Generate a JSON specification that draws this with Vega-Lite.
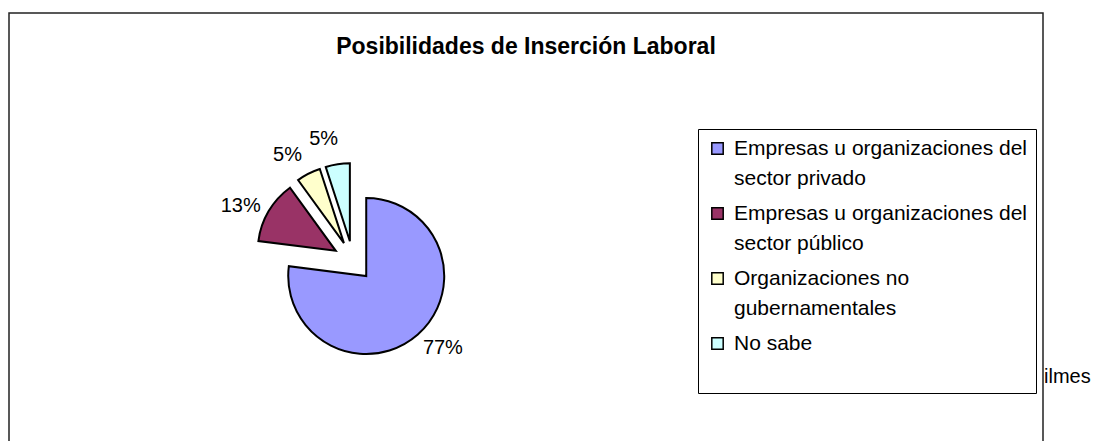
{
  "$schema": "https://vega.github.io/schema/vega-lite/v6.json",
  "width": 1034,
  "height": 430,
  "autosize": "none",
  "padding": {"left": 9, "top": 13, "right": 53, "bottom": -2},
  "background": "white",
  "title": {
    "text": "Posibilidades de Inserción Laboral",
    "frame": "group",
    "anchor": "middle",
    "orient": "top",
    "offset": -40,
    "dy": 25,
    "baseline": "alphabetic",
    "font": "Liberation Sans",
    "fontSize": 23,
    "fontWeight": "bold",
    "color": "black"
  },
  "config": {
    "view": {"stroke": null},
    "font": "Liberation Sans"
  },
  "data": {
    "values": [
      {"categoria": "Empresas u organizaciones del sector privado", "valor": 0.77, "orden": 1},
      {"categoria": "Empresas u organizaciones del sector público", "valor": 0.13, "orden": 2},
      {"categoria": "Organizaciones no gubernamentales", "valor": 0.05, "orden": 3},
      {"categoria": "No sabe", "valor": 0.05, "orden": 4}
    ]
  },
  "layer": [
    {
      "data": {"values": [{"marco": "borde"}]},
      "mark": {
        "type": "rect",
        "filled": false,
        "stroke": "#222222",
        "strokeWidth": 1.5,
        "x": 0,
        "x2": {"expr": "width"},
        "y": 0,
        "y2": {"expr": "height + 20"}
      },
      "encoding": {}
    },
    {
      "mark": {
        "type": "arc",
        "outerRadius": 78,
        "stroke": "black",
        "strokeWidth": 2,
        "strokeJoin": "miter",
        "xOffset": {"expr": "-173 + 20*sin(PI*(datum.valor_start + datum.valor_end))"},
        "yOffset": {"expr": "33 - 20*cos(PI*(datum.valor_start + datum.valor_end))"}
      },
      "encoding": {
        "theta": {"field": "valor", "type": "quantitative", "stack": true},
        "order": {"field": "orden", "type": "quantitative"},
        "color": {
          "field": "categoria",
          "type": "nominal",
          "scale": {
            "domain": [
              "Empresas u organizaciones del sector privado",
              "Empresas u organizaciones del sector público",
              "Organizaciones no gubernamentales",
              "No sabe"
            ],
            "range": ["#9999FF", "#993366", "#FFFFCC", "#CCFFFF"]
          },
          "legend": {
            "orient": "none",
            "legendX": 689,
            "legendY": 116,
            "title": null,
            "strokeColor": "black",
            "padding": 9,
            "symbolType": "square",
            "symbolSize": 130,
            "symbolStrokeColor": "black",
            "symbolStrokeWidth": 1.5,
            "symbolOpacity": 1,
            "labelFont": "Liberation Sans",
            "labelFontSize": 21,
            "labelColor": "black",
            "labelOffset": 6,
            "labelLimit": 0,
            "rowPadding": 13,
            "labelExpr": "datum.label == 'Empresas u organizaciones del sector privado' ? ['Empresas u organizaciones del', 'sector privado'] : datum.label == 'Empresas u organizaciones del sector público' ? ['Empresas u organizaciones del', 'sector público'] : datum.label == 'Organizaciones no gubernamentales' ? ['Organizaciones no', 'gubernamentales'] : [datum.label, ' ']",
            "encode": {"labels": {"update": {"lineHeight": {"value": 30}}}}
          }
        }
      }
    },
    {
      "mark": {
        "type": "text",
        "radius": 125,
        "thetaOffset": -0.08,
        "xOffset": -173,
        "yOffset": 33,
        "font": "Liberation Sans",
        "fontSize": 20,
        "fill": "black",
        "align": "center",
        "baseline": "middle"
      },
      "encoding": {
        "theta": {"field": "valor", "type": "quantitative", "stack": true},
        "order": {"field": "orden", "type": "quantitative"},
        "text": {"field": "valor", "type": "quantitative", "format": ".0%"}
      }
    },
    {
      "data": {"values": [{"texto": "ilmes"}]},
      "mark": {
        "type": "text",
        "align": "left",
        "baseline": "alphabetic",
        "font": "Liberation Sans",
        "fontSize": 20,
        "fill": "black",
        "x": {"expr": "width + 1"},
        "y": 370
      },
      "encoding": {"text": {"field": "texto", "type": "nominal"}}
    }
  ]
}
